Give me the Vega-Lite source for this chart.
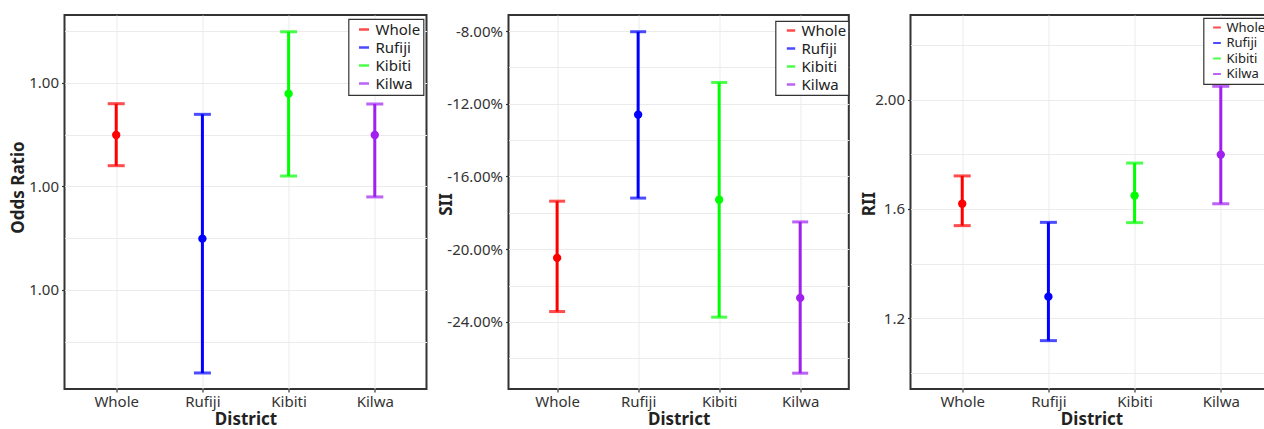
{
  "$schema": "https://vega.github.io/schema/vega-lite/v6.json",
  "background": "white",
  "padding": {"left": 8.5, "top": 14, "right": 0, "bottom": 0},
  "config": {
    "locale": {"number": {"decimal": ".", "thousands": ",", "grouping": [3], "currency": ["$", ""], "minus": "-"}},
    "font": "Noto Sans",
    "view": {"stroke": "#333333", "strokeWidth": 2},
    "axis": {
      "labelFont": "Noto Sans", "labelFontSize": 15, "labelColor": "#333333",
      "titleFont": "Noto Sans", "titleFontSize": 17, "titleFontWeight": "bold", "titleColor": "#222222",
      "tickColor": "#333333", "tickSize": 3, "tickWidth": 1.2,
      "domain": false, "gridColor": "#ebebeb", "gridWidth": 1
    },
    "axisX": {"labelAngle": 0, "labelPadding": 2, "titlePadding": 2},
    "axisY": {"labelPadding": 3},
    "legend": {
      "orient": "none", "title": null, "fillColor": "white", "strokeColor": "#333333", "strokeWidth": 1.2,
      "symbolType": "stroke", "symbolStrokeWidth": 2.5, "symbolSize": 100,
      "labelFont": "Noto Sans", "labelColor": "#222222", "rowPadding": 2
    }
  },
  "resolve": {"scale": {"color": "independent"}, "legend": {"color": "independent"}},
  "spacing": 9,
  "bounds": "full",
  "hconcat": [
    {
      "width": 362, "height": 374,
      "data": {"values": [
        {"District": "Whole", "est": 1.002498, "lo": 1.002201, "hi": 1.0028},
        {"District": "Rufiji", "est": 1.001496, "lo": 1.000198, "hi": 1.002697},
        {"District": "Kibiti", "est": 1.002897, "lo": 1.002101, "hi": 1.003495},
        {"District": "Kilwa", "est": 1.002498, "lo": 1.001899, "hi": 1.002797}
      ]},
      "encoding": {
        "x": {"field": "District", "type": "nominal", "sort": ["Whole", "Rufiji", "Kibiti", "Kilwa"],
              "scale": {"type": "point", "padding": 0.6, "domain": ["Whole", "Rufiji", "Kibiti", "Kilwa"]},
              "axis": {"title": "District", "grid": true}},
        "color": {"field": "District", "type": "nominal",
                  "scale": {"domain": ["Whole", "Rufiji", "Kibiti", "Kilwa"], "range": ["#ff0000", "#0000ff", "#00ff00", "#a020f0"]},
                  "legend": {"legendX": 284, "legendY": 4, "labelFontSize": 15, "padding": 3, "symbolOffset": 5, "labelOffset": 4}}
      },
      "layer": [
        {"mark": {"type": "rule", "strokeWidth": 3},
         "encoding": {"y": {"field": "lo", "type": "quantitative",
                            "scale": {"domain": [1.000043, 1.003657], "nice": false, "zero": false},
                            "axis": {"values": [1.0005, 1.001, 1.0015, 1.002, 1.0025, 1.003, 1.0035],
                                     "labelExpr": "(datum.value == 1.001 || datum.value == 1.002 || datum.value == 1.003) ? format(datum.value, '.2f') : ''",
                                     "tickOpacity": {"condition": {"test": "datum.value == 1.001 || datum.value == 1.002 || datum.value == 1.003", "value": 1}, "value": 0},
                                     "grid": true, "title": "Odds Ratio", "titleX": -46, "titleY": 172, "titleBaseline": "middle"}},
                      "y2": {"field": "hi"}}},
        {"mark": {"type": "tick", "thickness": 3, "size": 17}, "encoding": {"y": {"field": "lo", "type": "quantitative"}}},
        {"mark": {"type": "tick", "thickness": 3, "size": 17}, "encoding": {"y": {"field": "hi", "type": "quantitative"}}},
        {"mark": {"type": "point", "filled": true, "size": 70, "opacity": 1}, "encoding": {"y": {"field": "est", "type": "quantitative"}}}
      ]
    },
    {
      "width": 340.3, "height": 374,
      "data": {"values": [
        {"District": "Whole", "est": -0.2048, "lo": -0.2343, "hi": -0.1736},
        {"District": "Rufiji", "est": -0.126, "lo": -0.1719, "hi": -0.0804},
        {"District": "Kibiti", "est": -0.1728, "lo": -0.2374, "hi": -0.1083},
        {"District": "Kilwa", "est": -0.2268, "lo": -0.2682, "hi": -0.185}
      ]},
      "encoding": {
        "x": {"field": "District", "type": "nominal", "sort": ["Whole", "Rufiji", "Kibiti", "Kilwa"],
              "scale": {"type": "point", "padding": 0.6, "domain": ["Whole", "Rufiji", "Kibiti", "Kilwa"]},
              "axis": {"title": "District", "grid": true}},
        "color": {"field": "District", "type": "nominal",
                  "scale": {"domain": ["Whole", "Rufiji", "Kibiti", "Kilwa"], "range": ["#ff0000", "#0000ff", "#00ff00", "#a020f0"]},
                  "legend": {"legendX": 267, "legendY": 6, "labelFontSize": 15, "padding": 2, "symbolOffset": 6, "labelOffset": 3, "symbolSize": 70}}
      },
      "layer": [
        {"mark": {"type": "rule", "strokeWidth": 3},
         "encoding": {"y": {"field": "lo", "type": "quantitative",
                            "scale": {"domain": [-0.2769, -0.0712], "nice": false, "zero": false},
                            "axis": {"values": [-0.26, -0.24, -0.22, -0.2, -0.18, -0.16, -0.14, -0.12, -0.1, -0.08],
                                     "labelExpr": "(datum.value == -0.24 || datum.value == -0.2 || datum.value == -0.16 || datum.value == -0.12 || datum.value == -0.08) ? format(datum.value, '.2%') : ''",
                                     "tickOpacity": {"condition": {"test": "datum.value == -0.24 || datum.value == -0.2 || datum.value == -0.16 || datum.value == -0.12 || datum.value == -0.08", "value": 1}, "value": 0},
                                     "grid": true, "title": "SII", "titleX": -61.7, "titleY": 189, "titleBaseline": "middle"}},
                      "y2": {"field": "hi"}}},
        {"mark": {"type": "tick", "thickness": 3, "size": 16}, "encoding": {"y": {"field": "lo", "type": "quantitative"}}},
        {"mark": {"type": "tick", "thickness": 3, "size": 16}, "encoding": {"y": {"field": "hi", "type": "quantitative"}}},
        {"mark": {"type": "point", "filled": true, "size": 70, "opacity": 1}, "encoding": {"y": {"field": "est", "type": "quantitative"}}}
      ]
    },
    {
      "width": 362, "height": 374,
      "data": {"values": [
        {"District": "Whole", "est": 1.619, "lo": 1.539, "hi": 1.721},
        {"District": "Rufiji", "est": 1.279, "lo": 1.118, "hi": 1.551},
        {"District": "Kibiti", "est": 1.649, "lo": 1.55, "hi": 1.768},
        {"District": "Kilwa", "est": 1.799, "lo": 1.619, "hi": 2.049}
      ]},
      "encoding": {
        "x": {"field": "District", "type": "nominal", "sort": ["Whole", "Rufiji", "Kibiti", "Kilwa"],
              "scale": {"type": "point", "padding": 0.6, "domain": ["Whole", "Rufiji", "Kibiti", "Kilwa"]},
              "axis": {"title": "District", "grid": true}},
        "color": {"field": "District", "type": "nominal",
                  "scale": {"domain": ["Whole", "Rufiji", "Kibiti", "Kilwa"], "range": ["#ff0000", "#0000ff", "#00ff00", "#a020f0"]},
                  "legend": {"legendX": 293, "legendY": 3, "labelFontSize": 13, "padding": 3, "symbolOffset": 4, "labelOffset": 3, "symbolSize": 60, "symbolStrokeWidth": 2, "rowPadding": 1.5}}
      },
      "layer": [
        {"mark": {"type": "rule", "strokeWidth": 3},
         "encoding": {"y": {"field": "lo", "type": "quantitative",
                            "scale": {"domain": [0.941, 2.31], "nice": false, "zero": false},
                            "axis": {"values": [1.0, 1.2, 1.4, 1.6, 1.8, 2.0, 2.2],
                                     "labelExpr": "datum.value == 2 ? format(datum.value, '.2f') : (datum.value == 1.2 || datum.value == 1.6) ? format(datum.value, '.1f') : ''",
                                     "tickOpacity": {"condition": {"test": "datum.value == 1.2 || datum.value == 1.6 || datum.value == 2", "value": 1}, "value": 0},
                                     "grid": true, "title": "RII", "titleX": -41, "titleY": 188.5, "titleBaseline": "middle"}},
                      "y2": {"field": "hi"}}},
        {"mark": {"type": "tick", "thickness": 3, "size": 17}, "encoding": {"y": {"field": "lo", "type": "quantitative"}}},
        {"mark": {"type": "tick", "thickness": 3, "size": 17}, "encoding": {"y": {"field": "hi", "type": "quantitative"}}},
        {"mark": {"type": "point", "filled": true, "size": 70, "opacity": 1}, "encoding": {"y": {"field": "est", "type": "quantitative"}}}
      ]
    }
  ]
}
